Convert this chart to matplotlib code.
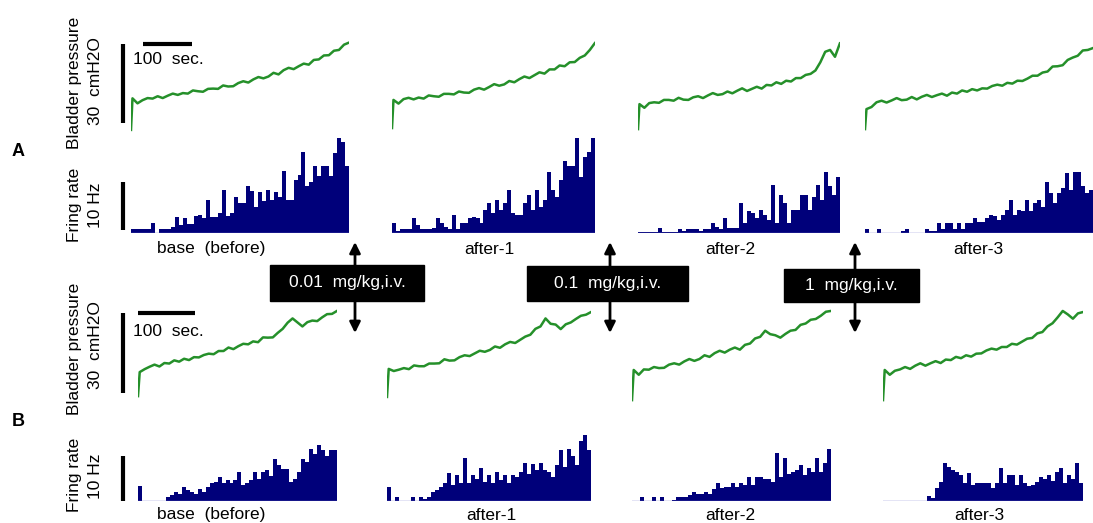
import numpy as np
import matplotlib
matplotlib.use('Agg')
import matplotlib.pyplot as plt
from matplotlib.patches import Rectangle

plt.rcParams['font.family'] = ['Liberation Sans', 'DejaVu Sans']

# bladder pressure traces (cmH2O above the empty-bladder level)
a_pressure = [
    [0.8, 12.8, 10.9, 12.1, 12.9, 12.7, 13.6, 12.9, 13.8, 14.6, 14.1, 14.8, 14.6, 15.8, 15.5,
     15.3, 16.4, 16.5, 16.4, 17.7, 17.3, 17.4, 18.6, 19.3, 18.8, 20.0, 20.9, 20.4, 21.1, 22.5,
     21.9, 23.5, 24.4, 23.9, 25.0, 26.0, 25.6, 27.4, 27.6, 29.1, 29.2, 30.9, 31.2, 33.2, 34.0],
    [1.5, 12.2, 10.8, 12.5, 13.0, 12.4, 13.1, 12.7, 13.9, 13.6, 13.4, 14.5, 14.5, 14.3, 15.4,
     15.0, 14.9, 16.1, 16.7, 16.1, 17.1, 18.2, 17.6, 18.1, 19.4, 18.9, 20.1, 21.1, 20.5, 21.6,
     22.7, 22.2, 23.8, 23.8, 25.3, 25.0, 26.5, 26.6, 28.2, 29.1, 31.2, 33.8],
    [1.1, 10.6, 9.2, 11.0, 11.3, 11.1, 12.2, 12.2, 11.9, 13.0, 12.3, 12.2, 13.2, 13.6, 12.9,
     13.9, 14.8, 14.1, 14.4, 15.4, 14.7, 15.7, 16.6, 15.6, 16.4, 17.2, 16.5, 17.9, 17.7, 18.9,
     18.3, 19.5, 19.2, 20.5, 20.5, 21.7, 22.1, 23.4, 26.5, 30.5, 31.2, 28.6, 33.7],
    [1.1, 8.7, 9.5, 11.3, 11.9, 11.2, 12.0, 12.9, 12.1, 12.3, 13.3, 12.4, 13.4, 14.1, 13.3,
     14.0, 14.6, 13.8, 15.0, 14.6, 15.8, 15.3, 16.3, 15.8, 16.6, 16.5, 17.5, 18.0, 17.6, 18.7,
     18.4, 19.5, 19.4, 20.3, 21.4, 21.4, 22.6, 23.0, 24.9, 25.0, 25.4, 27.4, 28.3, 29.0, 31.0,
     31.2, 31.9],
]
b_pressure = [
    [2.2, 11.2, 12.3, 13.2, 14.0, 13.3, 14.6, 14.4, 15.6, 15.1, 16.2, 15.7, 16.8, 16.7, 17.6,
     18.1, 17.9, 19.1, 19.1, 20.4, 19.8, 20.9, 21.8, 21.6, 22.7, 22.4, 24.2, 24.1, 24.2, 25.9,
     27.4, 29.7, 31.3, 29.8, 28.3, 29.9, 30.5, 30.3, 31.7, 32.9, 33.0, 34.1],
    [1.9, 12.4, 11.6, 12.1, 12.7, 12.3, 13.7, 13.4, 13.4, 14.4, 14.4, 14.5, 16.0, 15.5, 15.6,
     16.8, 17.5, 17.2, 18.2, 19.2, 18.8, 19.5, 20.8, 20.3, 21.6, 22.5, 22.1, 23.3, 24.5, 25.2,
     27.4, 28.3, 31.3, 29.3, 29.0, 27.3, 29.1, 29.8, 31.1, 32.3, 32.7, 33.7],
    [0.7, 12.0, 10.2, 12.2, 12.1, 13.1, 12.7, 12.8, 14.0, 14.5, 14.0, 15.2, 16.1, 15.4, 16.1,
     17.5, 16.9, 18.3, 19.2, 18.5, 19.6, 20.4, 19.6, 21.4, 21.9, 23.8, 24.4, 26.7, 25.4, 25.0,
     24.1, 25.5, 26.7, 27.0, 28.9, 29.4, 30.8, 31.1, 32.3, 33.8, 34.1],
    [0.7, 12.0, 10.2, 11.7, 12.2, 13.1, 12.4, 13.6, 14.5, 13.6, 14.5, 15.3, 14.6, 15.9, 15.7,
     16.9, 16.4, 17.5, 17.0, 18.1, 18.2, 19.3, 20.0, 19.6, 20.6, 20.6, 21.8, 21.5, 22.6, 23.7,
     24.0, 25.7, 26.2, 28.3, 29.5, 31.7, 34.1, 32.8, 31.2, 33.2, 33.7],
]

# firing rate histograms (Hz per bin)
a_rate = [
    [0.8, 0.8, 0.8, 0.8, 0.8, 2.0, 0.0, 0.8, 0.8, 0.8, 1.2, 3.2, 1.5, 3.0, 1.8, 1.8, 3.3, 3.5,
     3.0, 6.7, 3.2, 3.2, 3.9, 8.7, 3.3, 4.0, 7.3, 6.0, 6.0, 9.4, 8.4, 5.3, 8.2, 6.5, 8.7, 6.7,
     8.2, 7.3, 12.5, 6.7, 6.7, 10.8, 11.8, 16.5, 9.4, 10.4, 13.6, 11.5, 13.6, 13.6, 11.5, 16.3,
     19.2, 18.5, 13.6],
    [1.9, 0.3, 0.75, 0.75, 0.75, 2.9, 1.5, 0.75, 0.75, 0.75, 0.9, 2.9, 1.9, 1.2, 0.75, 3.6,
     0.8, 1.9, 1.9, 2.9, 3.2, 2.9, 1.9, 4.6, 6.0, 4.0, 6.7, 4.6, 6.0, 8.7, 3.9, 3.6, 3.6, 6.0,
     7.7, 4.6, 8.7, 5.3, 6.7, 12.4, 8.7, 7.3, 10.7, 14.5, 13.5, 13.5, 19.3, 11.4, 15.5, 16.5,
     19.3],
    [0.1, 0.1, 0.1, 0.1, 0.1, 0.9, 0.1, 0.1, 0.1, 0.1, 0.75, 0.4, 0.75, 0.75, 0.75, 0.3, 0.75,
     0.75, 1.9, 1.2, 0.75, 2.9, 0.9, 0.9, 0.9, 6.0, 1.9, 4.3, 3.9, 2.9, 4.6, 3.6, 2.5, 9.7,
     1.9, 7.7, 6.0, 1.9, 4.6, 4.6, 7.7, 7.7, 4.6, 7.3, 9.7, 6.7, 12.4, 9.4, 7.7, 11.4],
    [0.75, 0, 0, 0.75, 0, 0, 0, 0, 0, 0.3, 0.75, 0, 0, 0, 0, 0.75, 0.4, 0.4, 1.9, 0.75, 1.9,
     1.9, 0.75, 1.9, 0.75, 1.9, 1.9, 2.9, 2.2, 2.2, 2.9, 3.6, 3.3, 2.6, 3.6, 4.6, 6.7, 3.6,
     4.6, 4.3, 6.7, 4.3, 6.0, 6.7, 5.3, 10.4, 8.0, 6.0, 8.0, 9.0, 12.2, 8.7, 12.4, 12.4, 9.4,
     8.0, 8.7],
]
b_rate = [
    [3.3, 0, 0, 0, 0, 0, 0, 0.9, 1.3, 2.0, 1.5, 3.1, 2.4, 2.0, 1.6, 2.7, 2.0, 3.1, 3.9, 4.2,
     5.3, 4.0, 4.6, 3.9, 4.7, 6.4, 3.6, 3.9, 4.6, 6.4, 5.0, 6.4, 6.8, 5.6, 9.4, 7.9, 7.2, 7.2,
     4.2, 5.0, 6.4, 9.4, 8.7, 11.5, 10.5, 12.4, 11.3, 10.1, 11.3, 11.4],
    [3.2, 0, 1.0, 0, 0, 0, 1.0, 0, 1.0, 0.5, 1.0, 2.1, 2.4, 3.2, 3.9, 6.3, 3.6, 5.8, 4.1, 9.5,
     3.9, 5.8, 5.0, 7.3, 4.3, 5.8, 3.9, 6.5, 4.7, 5.8, 3.9, 5.8, 5.4, 6.5, 8.4, 6.1, 8.2, 6.9,
     8.4, 6.9, 6.5, 5.4, 8.0, 11.3, 7.6, 11.5, 10.0, 8.0, 13.4, 14.7, 11.3],
    [0, 0, 1.0, 0, 0, 1.0, 0, 1.0, 0, 0, 0.3, 1.0, 1.0, 1.0, 1.4, 2.1, 1.6, 1.5, 2.1, 1.5, 2.6,
     4.1, 2.9, 3.2, 3.2, 3.9, 3.2, 4.1, 3.5, 5.4, 3.6, 5.4, 5.4, 4.8, 5.0, 4.3, 10.6, 5.4, 9.5,
     6.1, 6.5, 7.0, 8.0, 5.8, 7.3, 6.5, 9.5, 6.5, 8.4, 11.5],
    [0, 0, 0, 0, 0, 0, 0, 0, 0, 0, 0, 1.1, 0.7, 3.0, 4.3, 8.4, 7.6, 6.9, 6.5, 5.8, 3.9, 6.3,
     3.6, 4.1, 4.1, 4.1, 3.9, 2.8, 4.1, 7.3, 3.9, 5.8, 5.8, 3.6, 5.8, 3.9, 3.3, 3.5, 4.3, 5.4,
     4.8, 5.8, 4.5, 6.5, 7.3, 4.1, 5.8, 4.8, 8.4, 4.1],
]

# recording length of each panel (s)
a_dur = [445, 414, 412, 465]
b_dur = [349, 358, 349, 351]

panel_names = ['base  (before)', 'after-1', 'after-2', 'after-3']
doses = ['0.01  mg/kg,i.v.', '0.1  mg/kg,i.v.', '1  mg/kg,i.v.']

W, H = 1093, 523
GREEN = '#25902a'
NAVY = '#00007a'

fig = plt.figure(figsize=(W / 100, H / 100), dpi=100)


def px_axes(left, base, width, height):
    # pixel box measured from the top-left corner of the figure
    ax = fig.add_axes([left / W, 1 - base / H, width / W, height / H])
    ax.axis('off')
    return ax


def ftext(x, y, s, **kw):
    kw.setdefault('ha', 'center')
    kw.setdefault('va', 'center')
    kw.setdefault('fontsize', 12.5)
    fig.text(x / W, 1 - y / H, s, **kw)


def draw_row(pressure, rate, dur, lefts, p_base, p_ppu, h_base, h_ppu, pps):
    p_axes, h_axes = [], []
    for p, h, d, x0 in zip(pressure, rate, dur, lefts):
        ax = px_axes(x0, p_base, d * pps, 36 * p_ppu)
        ax.set_xlim(0, d)
        ax.set_ylim(0, 36)
        # first sample is the empty bladder just before filling starts
        t = np.r_[0, np.linspace(3, d, len(p) - 1)]
        ax.plot(t, p, color=GREEN, lw=1.8, solid_joinstyle='round')
        p_axes.append(ax)

        ax = px_axes(x0, h_base, d * pps, 20 * h_ppu)
        ax.set_xlim(0, d)
        ax.set_ylim(0, 20)
        ax.plot([0, d], [0, 0], color='#7a7ad0', lw=1)
        ax.stairs(h, np.linspace(0, d, len(h) + 1), fill=True, color=NAVY, lw=0)
        h_axes.append(ax)
    return p_axes, h_axes


# row A
pa, ha = draw_row(a_pressure, a_rate, a_dur, [131, 392, 638, 865],
                  132, 2.63, 232.5, 4.9, 0.49)
pa[0].plot([-17, -17], [3.4, 33.4], color='k', lw=3, clip_on=False, solid_capstyle='butt')
pa[0].plot([24, 124], [33.4, 33.4], color='k', lw=3, clip_on=False, solid_capstyle='butt')
pa[0].text(4, 27.4, '100  sec.', fontsize=12.5, va='center')
ha[0].plot([-17, -17], [0.5, 10.3], color='k', lw=3, clip_on=False, solid_capstyle='butt')

# row B
pb, hb = draw_row(b_pressure, b_rate, b_dur, [138, 387, 632, 883],
                  402, 2.67, 501, 4.5, 0.57)
pb[0].plot([-25.5, -25.5], [3.2, 33.2], color='k', lw=3, clip_on=False, solid_capstyle='butt')
pb[0].plot([0.5, 100.5], [33.2, 33.2], color='k', lw=3, clip_on=False, solid_capstyle='butt')
pb[0].text(-9.3, 26.3, '100  sec.', fontsize=12.5, va='center')
hb[0].plot([-25.5, -25.5], [0, 10], color='k', lw=3, clip_on=False, solid_capstyle='butt')

# panel labels
for name, xa, xb in zip(panel_names, [211, 489, 730, 978], [211, 491, 730, 979]):
    ftext(xa, 249, name)
    ftext(xb, 515, name)

# axis captions
for yb, yp, yf, yh in [(83, 81, 205, 205), (349, 345, 475, 476)]:
    ftext(74, yb, 'Bladder pressure', rotation=90)
    ftext(95, yp, '30  cmH2O', rotation=90)
    ftext(74, yf, 'Fring rate', rotation=90)
    ftext(95, yh, '10 Hz', rotation=90)
ftext(18, 151, 'A', fontweight='bold', fontsize=13)
ftext(18, 421, 'B', fontweight='bold', fontsize=13)

# injection markers
over = fig.add_axes([0, 0, 1, 1])
over.set_xlim(0, W)
over.set_ylim(H, 0)
over.axis('off')
for dose, (x0, x1, y0, y1, xa) in zip(doses, [(270, 424, 265, 301, 355),
                                              (527, 688, 266, 301, 610),
                                              (784, 919, 269, 302, 855)]):
    over.annotate('', xy=(xa, 242), xytext=(xa, 333),
                  arrowprops=dict(arrowstyle='<|-|>', color='k', lw=2, mutation_scale=16,
                                  shrinkA=0, shrinkB=0))
    over.add_patch(Rectangle((x0, y0), x1 - x0, y1 - y0, color='k', zorder=3))
    over.text((x0 + x1) / 2, (y0 + y1) / 2, dose, color='white', fontsize=12.5,
              ha='center', va='center', zorder=4)

fig.savefig('out.png', dpi=100)
